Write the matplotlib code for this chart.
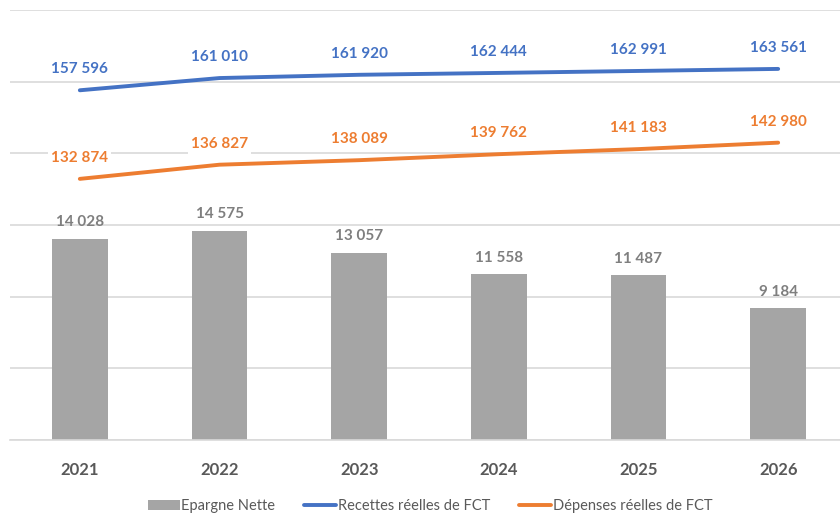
import matplotlib.pyplot as plt
import numpy as np

plt.rcParams['font.family'] = ['Lato', 'DejaVu Sans']

years = ["2021", "2022", "2023", "2024", "2025", "2026"]
epargne = [14028, 14575, 13057, 11558, 11487, 9184]
recettes = [157596, 161010, 161920, 162444, 162991, 163561]
depenses = [132874, 136827, 138089, 139762, 141183, 142980]

bar_color = "#A5A5A5"
blue = "#4472C4"
orange = "#ED7D31"
grid_color = "#D9D9D9"


def fmt(v):
    return f"{v:,}".replace(",", " ")


fig = plt.figure(figsize=(8.4, 5.15), dpi=100)
ax = fig.add_axes([10 / 840, 75 / 515, 838 / 840, 430 / 515])
ax2 = ax.twinx()

x = np.arange(len(years))

# bars - epargne nette
bars = ax.bar(x, epargne, width=0.4, color=bar_color, zorder=2, label="Epargne Nette")
ax.set_ylim(0, 30000)
ax.set_yticks(np.arange(0, 30001, 5000))
ax.yaxis.grid(True, color=grid_color, linewidth=1.2, zorder=0)
ax.set_axisbelow(True)
for xi, v in zip(x, epargne):
    ax.annotate(fmt(v), (xi, v), xytext=(0, 7), textcoords="offset points",
                ha="center", va="bottom", fontsize=11, fontweight="bold", color="#7F7F7F")

# lines on secondary axis
ax2.plot(x, recettes, color=blue, linewidth=2.8, solid_capstyle="round", label="Recettes réelles de FCT")
ax2.plot(x, depenses, color=orange, linewidth=2.8, solid_capstyle="round", label="Dépenses réelles de FCT")
ax2.set_ylim(60000, 180000)
for series, col in ((recettes, blue), (depenses, orange)):
    for xi, v in zip(x, series):
        ax2.annotate(fmt(v), (xi, v), xytext=(0, 10), textcoords="offset points",
                     ha="center", va="bottom", fontsize=11, fontweight="bold", color=col,
                     bbox=dict(boxstyle="square,pad=0.2", fc="white", ec="none"))

ax.set_xlim(-0.5, 5.5)
ax.set_xticks(x)
ax.set_xticklabels(years, fontsize=12, fontweight="bold", color="#595959")
ax.tick_params(axis="x", length=0, pad=16)
ax.tick_params(axis="y", left=False, labelleft=False)
ax2.tick_params(axis="y", right=False, labelright=False)
for a in (ax, ax2):
    for s in ("top", "right", "left"):
        a.spines[s].set_visible(False)
ax.spines["bottom"].set_color(grid_color)
ax.spines["bottom"].set_linewidth(1.2)
ax2.spines["bottom"].set_visible(False)

handles = [bars] + ax2.get_lines()
labels = ["Epargne Nette", "Recettes réelles de FCT", "Dépenses réelles de FCT"]
fig.legend(handles, labels, loc="center", bbox_to_anchor=(430 / 840, 1 - 506 / 515),
           ncol=3, frameon=False, fontsize=10.5, labelcolor="#595959",
           handlelength=2.2, handletextpad=0.1, columnspacing=2.0)

fig.savefig("out.png", dpi=100)
